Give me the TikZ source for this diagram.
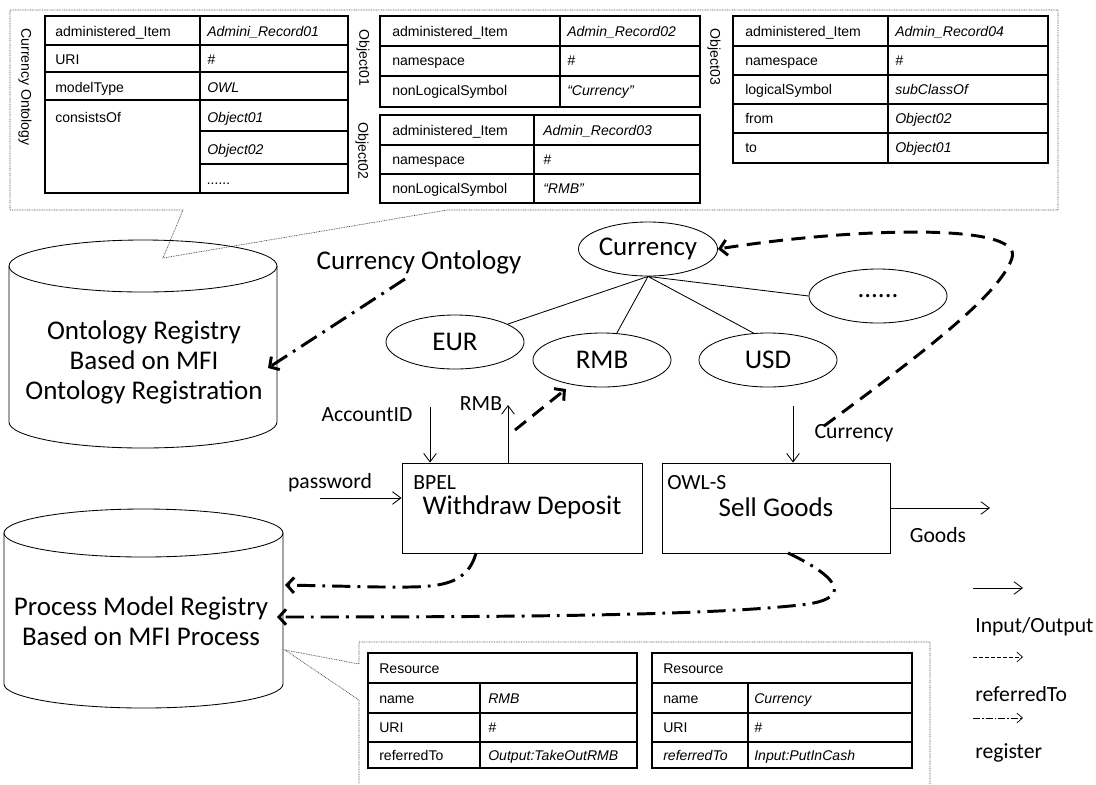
\documentclass[tikz,border=0pt]{standalone}
\usepackage{fontspec}
\setmainfont{Carlito}
\newfontfamily\cellfont{Liberation Sans}
\usetikzlibrary{arrows.meta,shapes.geometric}

\tikzset{
  bigtext/.style={font=\fontsize{19.2}{21.3}\selectfont},
  smalltext/.style={font=\fontsize{15.4}{18}\selectfont},
  cell/.style={anchor=base west, font=\cellfont\fontsize{10}{12}\selectfont},
  celli/.style={anchor=base west, font=\cellfont\itshape\fontsize{10}{12}\selectfont},
  sidelabel/.style={rotate=-90, font=\cellfont\fontsize{10}{12}\selectfont},
  tabframe/.style={line width=1.5pt},
  tabrule/.style={line width=0.75pt},
  balloon/.style={line width=0.5pt, black!70, dash pattern=on 0.6pt off 0.6pt},
  concept/.style={ellipse, draw, line width=0.6pt, minimum width=3.45cm, minimum height=1.35cm, bigtext},
  service/.style={draw, line width=0.6pt, minimum height=2.25cm},
  store/.style={line width=0.6pt},
  io/.style={line width=0.6pt, -{Straight Barb[length=6pt,width=9pt]}},
  refto/.style={line width=2.1pt, dash pattern=on 10pt off 6pt, -{Straight Barb[length=5pt,width=11pt]}},
  regto/.style={line width=2.1pt, dash pattern=on 13pt off 5pt on 2pt off 5pt, -{Straight Barb[length=5pt,width=11pt]}},
  legref/.style={line width=0.5pt, dash pattern=on 2.5pt off 1.8pt, -{Straight Barb[length=4pt,width=7pt]}},
  legreg/.style={line width=0.5pt, dash pattern=on 5pt off 1.5pt on 1pt off 1.5pt, -{Straight Barb[length=4pt,width=7pt]}},
}

\begin{document}
\begin{tikzpicture}[x=0.025cm, y=-0.025cm, every node/.style={inner sep=0pt}]
  \useasboundingbox (0,0) rectangle (1096,784);

  % callout round the ontology records
  \draw[balloon] (10,10) -- (1058,10) -- (1058,210) -- (447,210) -- (163,258) -- (183,210) -- (10,210) -- cycle;
  \node[sidelabel] (ontoside) at (25,87) {Currency Ontology};
  \node[sidelabel] (obj1side) at (363,58) {Object01};
  \node[sidelabel] (obj2side) at (362,151) {Object02};
  \node[sidelabel] (obj3side) at (714,57) {Object03};

  \draw[tabframe] (45,16) rectangle (348,193);
  \draw[tabrule] (200,16) -- (200,193) (45,45) -- (348,45) (45,72) -- (348,72) (45,100) -- (348,100)
    (200,131) -- (348,131) (200,164) -- (348,164);
  \foreach \k/\y/\a/\b in {1/36/administered\_Item/Admini\_Record01, 2/64/URI/\#, 3/92/modelType/OWL, 4/122/consistsOf/Object01} {
    \node[cell] (onL\k) at (55,\y) {\a};
    \node[celli] (onR\k) at (207,\y) {\b};
  }
  \node[celli] (onR5) at (207,154) {Object02};
  \node[celli] (onR6) at (207,184) {......};

  \draw[tabframe] (380,16) rectangle (700,107);
  \draw[tabrule] (560,16) -- (560,107) (380,46) -- (700,46) (380,76) -- (700,76);
  \foreach \k/\y/\a/\b in {1/36/administered\_Item/Admin\_Record02, 2/65.5/namespace/\#, 3/95/nonLogicalSymbol/“Currency”} {
    \node[cell] (obaL\k) at (392,\y) {\a};
    \node[celli] (obaR\k) at (567,\y) {\b};
  }

  \draw[tabframe] (380,115) rectangle (700,203);
  \draw[tabrule] (534,115) -- (534,203) (380,145) -- (700,145) (380,174) -- (700,174);
  \foreach \k/\y/\a/\b in {1/135/administered\_Item/Admin\_Record03, 2/164/namespace/\#, 3/193/nonLogicalSymbol/“RMB”} {
    \node[cell] (obbL\k) at (392,\y) {\a};
    \node[celli] (obbR\k) at (543,\y) {\b};
  }

  \draw[tabframe] (733,16) rectangle (1048,163);
  \draw[tabrule] (888,16) -- (888,163) (733,46) -- (1048,46) (733,75) -- (1048,75) (733,104) -- (1048,104) (733,133) -- (1048,133);
  \foreach \k/\y/\a/\b in {1/36/administered\_Item/Admin\_Record04, 2/65/namespace/\#, 3/94/logicalSymbol/subClassOf, 4/123/from/Object02, 5/152/to/Object01} {
    \node[cell] (obcL\k) at (745,\y) {\a};
    \node[celli] (obcR\k) at (895,\y) {\b};
  }

  % registries
  \draw[store] (9,266) -- (9,422) arc[start angle=180, end angle=0, x radius=134, y radius=26] -- (277,266);
  \draw[store] (143,266) ellipse [x radius=134, y radius=26];
  \node[bigtext, align=center] (ontreg) at (144,362) {Ontology Registry\\Based on MFI\\Ontology Registration};

  \draw[store] (4,533) -- (4,684) arc[start angle=180, end angle=0, x radius=139.5, y radius=24] -- (283,533);
  \draw[store] (143.5,533) ellipse [x radius=139.5, y radius=24];
  \node[bigtext, align=center] (procreg) at (141,621) {Process Model Registry\\Based on MFI Process};

  % currency ontology
  \node[bigtext] (ontolbl) at (419,262) {Currency Ontology};
  \node[concept] (cur) at (648,249) {Currency};
  \node[concept] (eur) at (455,342) {EUR};
  \node[concept] (rmb) at (602,360) {RMB};
  \node[concept] (usd) at (768,360) {USD};
  \node[concept] (dots) at (878,296) {......};
  \draw[line width=0.6pt] (cur.south) -- (eur) (cur.south) -- (rmb) (cur.south) -- (usd.118) (cur.south) -- (dots.west);

  % services
  \node[service, minimum width=6cm] (bpel) at (522,508) {};
  \node[service, minimum width=5.7cm] (sell) at (776,508) {};
  \node[smalltext, anchor=west] (bpeltag) at (413,483) {BPEL};
  \node[bigtext] (bpelname) at (522,507) {Withdraw Deposit};
  \node[smalltext, anchor=west] (selltag) at (667,483) {OWL-S};
  \node[bigtext] (sellname) at (776,507) {Sell Goods};

  \coordinate (acctin) at (430,407);
  \coordinate (rmbout) at (508,405);
  \coordinate (pwin) at (320,498);
  \coordinate (curin) at (793,406);
  \coordinate (goodsout) at (990,508);
  \draw[io] (acctin) -- (acctin |- bpel.north);
  \draw[io] (rmbout |- bpel.north) -- (rmbout);
  \draw[io] (pwin) -- (pwin -| bpel.west);
  \draw[io] (curin) -- (curin |- sell.north);
  \draw[io] (sell.east) -- (goodsout);
  \node[smalltext] (acctlbl) at (367,415) {AccountID};
  \node[smalltext] (rmblbl) at (481,404) {RMB};
  \node[smalltext] (pwlbl) at (330,483) {password};
  \node[smalltext] (curlbl) at (854,433) {Currency};
  \node[smalltext] (goodslbl) at (938,535) {Goods};

  % referredTo and register links
  \coordinate (rmbsrc) at (515,430);
  \coordinate (cursrc) at (824,426);
  \coordinate (curbend) at (1012,258);
  \draw[refto, shorten >=5pt] (rmbsrc) -- (rmb);
  \draw[refto] (cursrc) .. controls (920,355) and (1000,295) .. (curbend) .. controls (1024,222) and (850,228) .. (cur.east);

  \coordinate (ontsrc) at (405,279);
  \coordinate (ontin) at (268,368);
  \coordinate (bpelsrc) at (476,553);
  \coordinate (sellsrc) at (788,553);
  \coordinate (procin1) at (285,585);
  \coordinate (procin2) at (277,617);
  \draw[regto] (ontsrc) -- (ontin);
  \draw[regto] (bpelsrc) .. controls (466,590) and (430,587) .. (380,587) -- (procin1);
  \draw[regto] (sellsrc) .. controls (845,580) and (850,600) .. (800,605) .. controls (700,616) and (500,617) .. (procin2);

  % callout round the resources
  \draw[balloon] (930,784) -- (930,642) -- (359,642) -- (359,664) -- (285,650) -- (359,700) -- (359,784);

  \draw[tabframe] (368,653) rectangle (637,768);
  \draw[tabrule] (368,683) -- (637,683) (368,713) -- (637,713) (368,742) -- (637,742) (480,683) -- (480,768);
  \node[cell] (resAhead) at (379,673) {Resource};
  \foreach \k/\y/\a/\b in {1/703/name/RMB, 2/732/URI/\#, 3/760/referredTo/Output:TakeOutRMB} {
    \node[cell] (resAL\k) at (379,\y) {\a};
    \node[celli] (resAR\k) at (488,\y) {\b};
  }

  \draw[tabframe] (652,653) rectangle (912,768);
  \draw[tabrule] (652,683) -- (912,683) (652,713) -- (912,713) (652,742) -- (912,742) (748,683) -- (748,768);
  \node[cell] (resBhead) at (663,673) {Resource};
  \foreach \k/\y/\a/\b in {1/703/name/Currency, 2/732/URI/\#} {
    \node[cell] (resBL\k) at (663,\y) {\a};
    \node[celli] (resBR\k) at (754,\y) {\b};
  }
  \node[celli] (resBL3) at (663,760) {referredTo};
  \node[celli] (resBR3) at (754,760) {Input:PutInCash};

  % legend
  \coordinate (lgA1) at (973,588); \coordinate (lgA2) at (1023,588);
  \coordinate (lgB1) at (973,657); \coordinate (lgB2) at (1023,657);
  \coordinate (lgC1) at (973,718); \coordinate (lgC2) at (1023,718);
  \draw[io] (lgA1) -- (lgA2);
  \draw[legref] (lgB1) -- (lgB2);
  \draw[legreg] (lgC1) -- (lgC2);
  \node[smalltext, anchor=west] (lgAlbl) at (975,627) {Input/Output};
  \node[smalltext, anchor=west] (lgBlbl) at (975,694) {referredTo};
  \node[smalltext, anchor=west] (lgClbl) at (975,753) {register};
\end{tikzpicture}
\end{document}
